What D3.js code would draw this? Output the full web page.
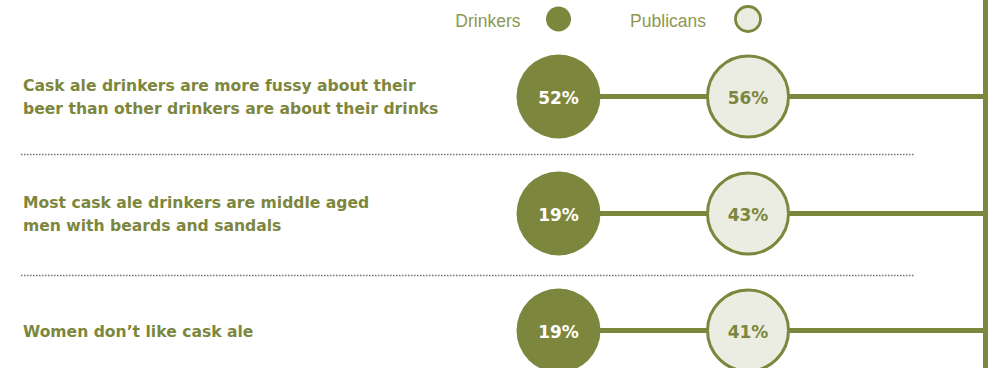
<!DOCTYPE html>
<html>
<head>
<meta charset="utf-8">
<script src="https://cdn.jsdelivr.net/npm/d3@7"></script>
<style>
  html, body { margin: 0; padding: 0; background: #ffffff; }
  svg { display: block; }
</style>
</head>
<body>
<svg id="chart" width="995" height="368"></svg>
<script>
// Survey statements (each entry is the wrapped lines of one statement)
const statements = [
  ["Cask ale drinkers are more fussy about their", "beer than other drinkers are about their drinks"],
  ["Most cask ale drinkers are middle aged", "men with beards and sandals"],
  ["Women don\u2019t like cask ale"]
];
const seriesNames = ["Drinkers", "Publicans"];
const drinkers = [52, 19, 19];
const publicans = [56, 43, 41];

const OLIVE = "#7d863d";
const PALE = "#ecede2";

const svg = d3.select("#chart");
const width = 995, height = 368;

// Rows stacked vertically, series placed side by side horizontally
const y = d3.scaleBand()
  .domain(d3.range(statements.length))
  .range([38, 389]);
const rowY = i => y(i) + y.bandwidth() / 2;

const x = d3.scalePoint()
  .domain(seriesNames)
  .range([558.5, 748]);

const railX = 985.5;
const radius = 42;

// Dotted separators between rows
const seps = svg.append("g");
for (let i = 0; i < statements.length - 1; i++) {
  const sy = y(i) + y.bandwidth() + (i === 0 ? -0.5 : 3.5);
  seps.append("line")
    .attr("x1", 21).attr("x2", 914)
    .attr("y1", sy).attr("y2", sy)
    .attr("stroke", "#707070")
    .attr("stroke-width", 1.5)
    .attr("stroke-dasharray", "1.5 1.5");
}

// Vertical rail on the right
svg.append("line")
  .attr("x1", railX).attr("x2", railX)
  .attr("y1", 0).attr("y2", height)
  .attr("stroke", OLIVE)
  .attr("stroke-width", 5);

const rows = svg.append("g").selectAll("g")
  .data(statements.map((s, i) => ({ lines: s, d: drinkers[i], p: publicans[i], i })))
  .join("g")
  .attr("transform", d => `translate(0,${rowY(d.i)})`);

// Connector from the drinkers dot to the rail
rows.append("line")
  .attr("x1", x("Drinkers")).attr("x2", railX)
  .attr("y1", 0).attr("y2", 0)
  .attr("stroke", OLIVE)
  .attr("stroke-width", 5);

// Statement text
rows.append("text")
  .attr("x", 23)
  .attr("fill", OLIVE)
  .attr("font-family", "'DejaVu Sans', sans-serif")
  .attr("font-weight", "bold")
  .attr("font-size", 15.6)
  .selectAll("tspan")
  .data(d => d.lines.map((t, k) => ({ t, k, n: d.lines.length })))
  .join("tspan")
  .attr("x", 23)
  .attr("y", d => (d.k - (d.n - 1) / 2) * 22.7 + 6)
  .text(d => d.t);

// Drinkers dot
rows.append("circle")
  .attr("cx", x("Drinkers")).attr("cy", 0)
  .attr("r", radius)
  .attr("fill", OLIVE);
rows.append("text")
  .attr("x", x("Drinkers")).attr("y", 1)
  .attr("text-anchor", "middle")
  .attr("dominant-baseline", "central")
  .attr("fill", "#ffffff")
  .attr("font-family", "'DejaVu Sans', sans-serif")
  .attr("font-weight", "bold")
  .attr("font-size", 17)
  .text(d => d.d + "%");

// Publicans dot
rows.append("circle")
  .attr("cx", x("Publicans")).attr("cy", 0)
  .attr("r", radius - 1.5)
  .attr("fill", PALE)
  .attr("stroke", OLIVE)
  .attr("stroke-width", 3);
rows.append("text")
  .attr("x", x("Publicans")).attr("y", 1)
  .attr("text-anchor", "middle")
  .attr("dominant-baseline", "central")
  .attr("fill", OLIVE)
  .attr("font-family", "'DejaVu Sans', sans-serif")
  .attr("font-weight", "bold")
  .attr("font-size", 17)
  .text(d => d.p + "%");

// Legend: name to the left of its swatch
const legendGap = { Drinkers: 38, Publicans: 42 };
const legend = svg.append("g");
seriesNames.forEach(name => {
  const cx = x(name);
  legend.append("text")
    .attr("x", cx - legendGap[name])
    .attr("y", 27)
    .attr("text-anchor", "end")
    .attr("fill", "#8d974f")
    .attr("font-family", "'Liberation Sans', Arial, sans-serif")
    .attr("font-size", 17.5)
    .text(name);
  if (name === "Drinkers") {
    legend.append("circle")
      .attr("cx", cx).attr("cy", 19).attr("r", 12.5)
      .attr("fill", OLIVE);
  } else {
    legend.append("circle")
      .attr("cx", cx).attr("cy", 19).attr("r", 12.5)
      .attr("fill", PALE)
      .attr("stroke", OLIVE)
      .attr("stroke-width", 2.8);
  }
});
</script>
</body>
</html>
